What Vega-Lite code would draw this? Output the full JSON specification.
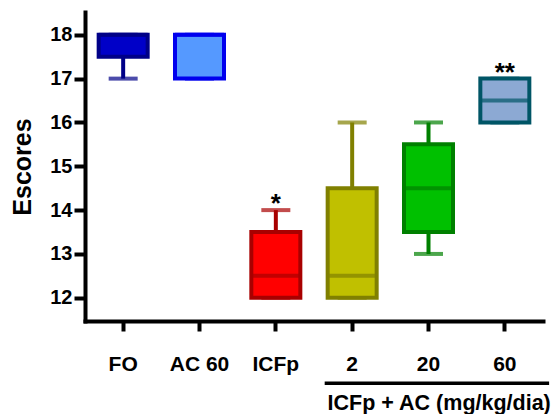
{
  "$schema": "https://vega.github.io/schema/vega-lite/v6.json",
  "autosize": "none",
  "width": 458,
  "height": 309,
  "padding": {"left": 85, "top": 12, "right": 15, "bottom": 93},
  "background": "white",
  "config": {
    "view": {"stroke": null},
    "font": "Liberation Sans"
  },
  "datasets": {
    "boxes": [
      {"group": "FO", "min": 17, "q1": 17.5, "median": 18, "q3": 18, "max": 18, "sig": ""},
      {"group": "AC 60", "min": 17, "q1": 17, "median": 18, "q3": 18, "max": 18, "sig": ""},
      {"group": "ICFp", "min": 12, "q1": 12, "median": 12.5, "q3": 13.5, "max": 14, "sig": "*"},
      {"group": "2", "min": 12, "q1": 12, "median": 12.5, "q3": 14.5, "max": 16, "sig": ""},
      {"group": "20", "min": 13, "q1": 13.5, "median": 14.5, "q3": 15.5, "max": 16, "sig": ""},
      {"group": "60", "min": 16, "q1": 16, "median": 16.5, "q3": 17, "max": 17, "sig": "**"}
    ],
    "annot": [
      {"label": "ICFp + AC (mg/kg/dia)", "from": "2", "to": "60", "mid": "20"}
    ]
  },
  "resolve": {"scale": {"fill": "independent"}},
  "layer": [
    {
      "data": {"name": "boxes"},
      "mark": {"type": "rule", "strokeWidth": 4},
      "encoding": {
        "x": {"field": "group", "type": "nominal", "scale": {"domain": ["FO", "AC 60", "ICFp", "2", "20", "60"], "paddingInner": 0, "paddingOuter": 0},
          "axis": {"title": null, "labelAngle": 0, "labelFontSize": 21, "labelFontWeight": "bold", "labelColor": "black", "labelPadding": 22, "tickSize": 10, "tickWidth": 4, "tickColor": "black", "domainWidth": 4, "domainColor": "black", "domainCap": "square", "bandPosition": 0.5}},
        "y": {"field": "min", "type": "quantitative", "scale": {"domain": [11.47, 18.52], "nice": false, "zero": false},
          "axis": {"title": "Escores", "titleFontSize": 25, "titleFontWeight": "bold", "titleColor": "black", "titlePadding": 14, "values": [12, 13, 14, 15, 16, 17, 18], "labelFontSize": 20, "labelFontWeight": "bold", "labelColor": "black", "labelPadding": 2, "tickSize": 11, "tickWidth": 4, "tickColor": "black", "domainWidth": 4, "domainColor": "black", "domainCap": "square", "grid": false}},
        "y2": {"field": "max"},
        "stroke": {"field": "group", "type": "nominal", "legend": null,
          "scale": {"domain": ["FO", "AC 60", "ICFp", "2", "20", "60"], "range": ["#000088", "#0000EE", "#A80000", "#808000", "#008000", "#005566"]}}
      }
    },
    {
      "data": {"name": "boxes"},
      "mark": {"type": "tick", "thickness": 4, "size": 29},
      "encoding": {
        "x": {"field": "group", "type": "nominal"},
        "y": {"field": "min", "type": "quantitative"},
        "fill": {"field": "group", "type": "nominal", "legend": null,
          "scale": {"domain": ["FO", "AC 60", "ICFp", "2", "20", "60"], "range": ["#000088", "#0000EE", "#A80000", "#808000", "#008000", "#005566"]}}
      }
    },
    {
      "data": {"name": "boxes"},
      "mark": {"type": "tick", "thickness": 4, "size": 29},
      "encoding": {
        "x": {"field": "group", "type": "nominal"},
        "y": {"field": "max", "type": "quantitative"},
        "fill": {"field": "group", "type": "nominal", "legend": null,
          "scale": {"domain": ["FO", "AC 60", "ICFp", "2", "20", "60"], "range": ["#000088", "#0000EE", "#A80000", "#808000", "#008000", "#005566"]}}
      }
    },
    {
      "data": {"name": "boxes"},
      "mark": {"type": "bar", "size": 49, "strokeWidth": 4},
      "encoding": {
        "x": {"field": "group", "type": "nominal"},
        "y": {"field": "q1", "type": "quantitative"},
        "y2": {"field": "q3"},
        "fill": {"field": "group", "type": "nominal", "legend": null,
          "scale": {"domain": ["FO", "AC 60", "ICFp", "2", "20", "60"], "range": ["#0000C8", "#5599FF", "#FF0000", "#C0C000", "#00C000", "#8CA9D3"]}},
        "stroke": {"field": "group", "type": "nominal", "legend": null}
      }
    },
    {
      "data": {"name": "boxes"},
      "mark": {"type": "tick", "thickness": 4, "size": 49},
      "encoding": {
        "x": {"field": "group", "type": "nominal"},
        "y": {"field": "median", "type": "quantitative"},
        "fill": {"field": "group", "type": "nominal", "legend": null,
          "scale": {"domain": ["FO", "AC 60", "ICFp", "2", "20", "60"], "range": ["#000088", "#0000EE", "#A80000", "#808000", "#008000", "#005566"]}}
      }
    },
    {
      "data": {"name": "boxes"},
      "mark": {"type": "text", "fontSize": 26, "fontWeight": "bold", "color": "black", "baseline": "alphabetic", "dy": 2},
      "encoding": {
        "x": {"field": "group", "type": "nominal"},
        "y": {"field": "max", "type": "quantitative"},
        "text": {"field": "sig"}
      }
    },
    {
      "data": {"name": "annot"},
      "mark": {"type": "rule", "strokeWidth": 3.5, "color": "black"},
      "encoding": {
        "x": {"field": "from", "type": "nominal", "bandPosition": 0.14},
        "x2": {"field": "to", "bandPosition": 1.08},
        "y": {"datum": 10.05}
      }
    },
    {
      "data": {"name": "annot"},
      "mark": {"type": "text", "fontSize": 21.5, "fontWeight": "bold", "color": "black", "baseline": "alphabetic", "align": "center"},
      "encoding": {
        "x": {"field": "mid", "type": "nominal", "bandPosition": 0.64},
        "y": {"datum": 9.44},
        "text": {"field": "label"}
      }
    }
  ]
}
